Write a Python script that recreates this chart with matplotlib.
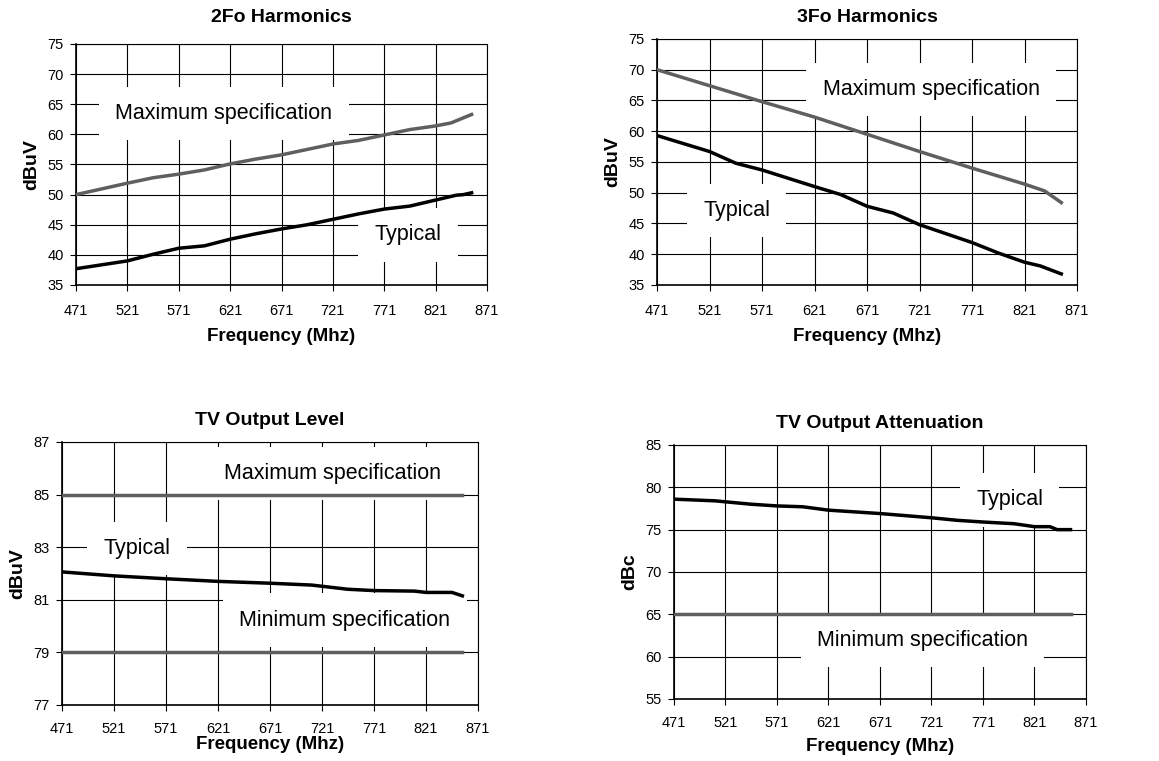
import matplotlib
matplotlib.use('Agg')
import matplotlib.pyplot as plt

plt.rcParams['font.family'] = ['Liberation Sans', 'DejaVu Sans']

# frequency ticks (MHz)
freq_ticks = [471, 521, 571, 621, 671, 721, 771, 821, 871]

# 2Fo harmonics
h2_max_f = [471, 521, 546, 571, 596, 621, 646, 671, 696, 721, 746, 771, 796, 821, 836, 856]
h2_max_v = [50.0, 51.9, 52.8, 53.4, 54.1, 55.1, 55.9, 56.6, 57.5, 58.4, 59.0, 59.9, 60.8, 61.4, 61.9, 63.3]
h2_typ_f = [471, 521, 546, 571, 596, 621, 646, 671, 696, 721, 746, 771, 796, 821, 841, 848, 856]
h2_typ_v = [37.7, 39.0, 40.1, 41.1, 41.5, 42.6, 43.5, 44.3, 45.0, 45.9, 46.8, 47.6, 48.1, 49.1, 49.9, 50.0, 50.3]

# 3Fo harmonics
h3_max_f = [471, 521, 571, 621, 671, 721, 771, 821, 840, 856]
h3_max_v = [70.0, 67.4, 64.8, 62.3, 59.5, 56.7, 54.0, 51.4, 50.3, 48.4]
h3_typ_f = [471, 521, 546, 571, 621, 646, 671, 696, 721, 771, 796, 821, 836, 856]
h3_typ_v = [59.3, 56.7, 54.8, 53.7, 51.0, 49.7, 47.8, 46.7, 44.8, 41.9, 40.2, 38.7, 38.1, 36.8]

# TV output level
lvl_typ_f = [471, 521, 571, 621, 671, 711, 746, 771, 810, 821, 846, 856]
lvl_typ_v = [82.06, 81.91, 81.80, 81.70, 81.63, 81.56, 81.40, 81.35, 81.33, 81.28, 81.28, 81.15]
lvl_max = 85
lvl_min = 79

# TV output attenuation
att_typ_f = [471, 511, 546, 571, 596, 621, 671, 721, 746, 771, 801, 821, 836, 843, 856]
att_typ_v = [78.6, 78.4, 78.0, 77.8, 77.7, 77.3, 76.9, 76.4, 76.1, 75.9, 75.7, 75.35, 75.35, 75.0, 75.0]
att_min = 65

GRAY = '#5f5f5f'
box = dict(boxstyle='square,pad=0.75', fc='white', ec='none')


def setup(ax, title, ylabel, ylim, yticks, xpad, xlabpad, tpad=12):
    ax.set_xlim(471, 871)
    ax.set_ylim(*ylim)
    ax.set_xticks(freq_ticks)
    ax.set_yticks(yticks)
    ax.grid(True, color='black', linewidth=0.8, zorder=0)
    ax.set_axisbelow(True)
    for s in ax.spines.values():
        s.set_color('black')
        s.set_linewidth(0.8)
    ax.spines['left'].set_linewidth(1.2)
    ax.spines['bottom'].set_linewidth(1.2)
    ax.tick_params(direction='out', length=4, labelsize=10.5)
    ax.tick_params(axis='x', pad=xpad)
    ax.tick_params(axis='y', pad=5)
    ax.set_title(title, fontsize=14, fontweight='bold', pad=tpad)
    ax.set_xlabel('Frequency (Mhz)', fontsize=13.5, fontweight='bold', labelpad=xlabpad)
    ax.set_ylabel(ylabel, fontsize=14, fontweight='bold', labelpad=5)


def label(ax, x, y, s):
    ax.text(x, y, s, fontsize=15.5, ha='center', va='center', bbox=box, zorder=2)


fig = plt.figure(figsize=(11.59, 7.61), dpi=100)

ax1 = fig.add_axes([0.0656, 0.6255, 0.3546, 0.3167])
setup(ax1, '2Fo Harmonics', 'dBuV', (35, 75), range(35, 80, 5), 10, 7, tpad=16)
label(ax1, 615, 63.5, 'Maximum specification')
label(ax1, 794, 43.3, 'Typical')
ax1.plot(h2_max_f, h2_max_v, color=GRAY, lw=2.5, zorder=3)
ax1.plot(h2_typ_f, h2_typ_v, color='black', lw=2.5, zorder=3)

ax2 = fig.add_axes([0.5669, 0.6255, 0.3624, 0.3233])
setup(ax2, '3Fo Harmonics', 'dBuV', (35, 75), range(35, 80, 5), 10, 7)
label(ax2, 732, 66.8, 'Maximum specification')
label(ax2, 547, 47.1, 'Typical')
ax2.plot(h3_max_f, h3_max_v, color=GRAY, lw=2.5, zorder=3)
ax2.plot(h3_typ_f, h3_typ_v, color='black', lw=2.5, zorder=3)

ax3 = fig.add_axes([0.0535, 0.0736, 0.3589, 0.3456])
setup(ax3, 'TV Output Level', 'dBuV', (77, 87), range(77, 88, 2), 8, 0)
label(ax3, 731, 85.8, 'Maximum specification')
label(ax3, 543, 82.95, 'Typical')
label(ax3, 743, 80.23, 'Minimum specification')
ax3.plot([471, 856], [lvl_max, lvl_max], color=GRAY, lw=2.5, zorder=3)
ax3.plot([471, 856], [lvl_min, lvl_min], color=GRAY, lw=2.5, zorder=3)
ax3.plot(lvl_typ_f, lvl_typ_v, color='black', lw=2.5, zorder=3)

ax4 = fig.add_axes([0.5815, 0.0815, 0.3555, 0.3338])
setup(ax4, 'TV Output Attenuation', 'dBc', (55, 85), range(55, 90, 5), 8, 6)
label(ax4, 797, 78.5, 'Typical')
label(ax4, 712, 61.9, 'Minimum specification')
ax4.plot([471, 856], [att_min, att_min], color=GRAY, lw=2.5, zorder=3)
ax4.plot(att_typ_f, att_typ_v, color='black', lw=2.5, zorder=3)

fig.savefig('out.png', dpi=100)
